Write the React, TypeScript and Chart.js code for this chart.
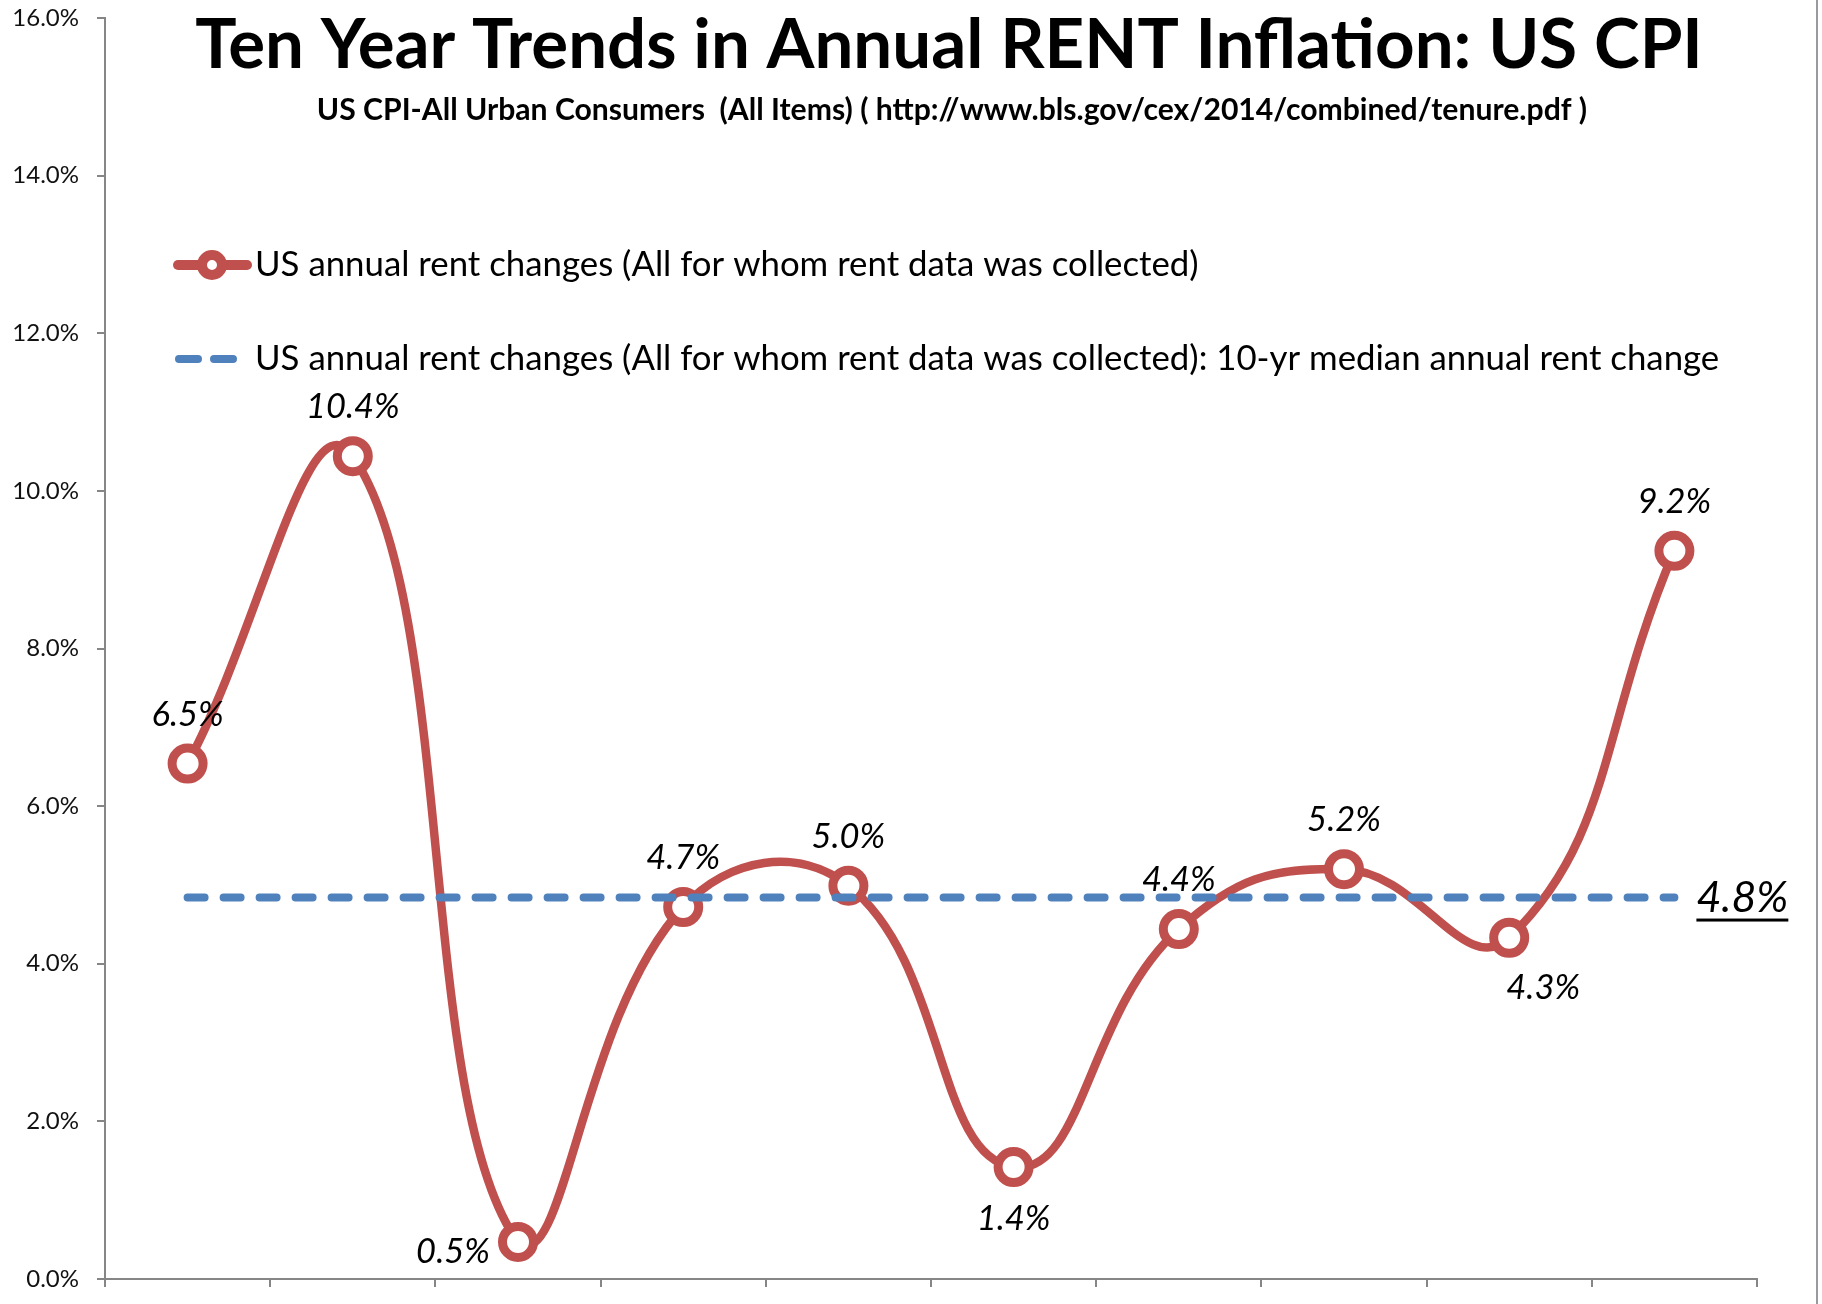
import React, { useEffect, useRef } from 'react';
import { Chart, registerables } from 'chart.js';

Chart.register(...registerables);

// ---------- data ----------
const categories = ['2005', '2006', '2007', '2008', '2009', '2010', '2011', '2012', '2013', '2014'];
const rentChanges = [6.54, 10.44, 0.47, 4.72, 4.99, 1.42, 4.44, 5.2, 4.33, 9.24];
const medianChange = [4.84, 4.84, 4.84, 4.84, 4.84, 4.84, 4.84, 4.84, 4.84, 4.84];
const yMin = 0;
const yMax = 16;
const yStep = 2;

const titleText = 'Ten Year Trends in Annual RENT Inflation: US CPI';
const subtitleText = 'US CPI-All Urban Consumers  (All Items) ( http://www.bls.gov/cex/2014/combined/tenure.pdf )';
const seriesLabel = 'US annual rent changes (All for whom rent data was collected)';
const medianLabel = 'US annual rent changes (All for whom rent data was collected): 10-yr median annual rent change';

// label placement per point (style only)
const labelPlacement = ['above', 'above', 'left', 'above', 'above', 'below', 'above', 'above', 'belowRight', 'above'];

const RED = '#C0504D';
const BLUE = '#4F81BD';
const AXIS = '#868686';
const FONT = 'Lato';

const W = 1822;
const H = 1304;

function fitFont(ctx: CanvasRenderingContext2D, text: string, style: string, target: number) {
  ctx.font = `${style} 100px ${FONT}`;
  const w = ctx.measureText(text).width;
  return (100 * target) / w;
}

const overlayPlugin = {
  id: 'overlay',
  afterDatasetsDraw(chart: any) {
    const ctx: CanvasRenderingContext2D = chart.ctx;
    ctx.save();
    // data labels
    ctx.fillStyle = '#000';
    ctx.font = `italic 34.5px ${FONT}`;
    ctx.textAlign = 'center';
    ctx.textBaseline = 'middle';
    const meta0 = chart.getDatasetMeta(0);
    meta0.data.forEach((pt: any, i: number) => {
      const txt = rentChanges[i].toFixed(1) + '%';
      let dx = 0;
      let dy = -49;
      switch (labelPlacement[i]) {
        case 'below':
          dy = 52;
          break;
        case 'left':
          dx = -65;
          dy = 10;
          break;
        case 'belowRight':
          dx = 34;
          dy = 50;
          break;
      }
      ctx.fillText(txt, pt.x + dx, pt.y + dy);
    });
    // median label
    const meta1 = chart.getDatasetMeta(1);
    const lastIdx = meta1.data.length - 1;
    const last = meta1.data[lastIdx];
    const mt = medianChange[lastIdx].toFixed(1) + '%';
    ctx.font = `italic 43px ${FONT}`;
    ctx.textAlign = 'left';
    const mw = ctx.measureText(mt).width;
    const lx = last.x + 22;
    const ly = last.y + 1;
    ctx.fillText(mt, lx, ly);
    ctx.fillRect(lx, ly + 20, mw, 3);
    ctx.restore();
  },
  afterDraw(chart: any) {
    const ctx: CanvasRenderingContext2D = chart.ctx;
    ctx.save();
    // title
    ctx.fillStyle = '#000';
    ctx.textAlign = 'center';
    ctx.textBaseline = 'alphabetic';
    let fs = fitFont(ctx, titleText, 'bold', 1508);
    ctx.font = `bold ${fs}px ${FONT}`;
    ctx.fillText(titleText, 949, 68);
    fs = fitFont(ctx, subtitleText, 'bold', 1271);
    ctx.font = `bold ${fs}px ${FONT}`;
    ctx.fillText(subtitleText, 952, 120);

    // legend
    const ds0 = chart.data.datasets[0];
    const ds1 = chart.data.datasets[1];
    const y1 = 265;
    const y2 = 359;
    ctx.lineCap = 'round';
    ctx.strokeStyle = ds0.borderColor;
    ctx.lineWidth = 10;
    ctx.beginPath();
    ctx.moveTo(178, y1);
    ctx.lineTo(247, y1);
    ctx.stroke();
    ctx.beginPath();
    ctx.arc(212, y1, 10, 0, Math.PI * 2);
    ctx.fillStyle = '#fff';
    ctx.fill();
    ctx.lineWidth = 10;
    ctx.stroke();

    ctx.strokeStyle = ds1.borderColor;
    ctx.lineWidth = 8;
    ctx.beginPath();
    ctx.moveTo(179, y2);
    ctx.lineTo(198, y2);
    ctx.moveTo(214, y2);
    ctx.lineTo(233, y2);
    ctx.stroke();

    ctx.fillStyle = '#000';
    ctx.textAlign = 'left';
    ctx.textBaseline = 'middle';
    ctx.font = `34.8px ${FONT}`;
    ctx.fillText(ds0.label, 255, y1);
    ctx.fillText(ds1.label, 255, y2);

    // outer right border
    ctx.strokeStyle = '#9a9a9a';
    ctx.lineWidth = 2;
    ctx.beginPath();
    ctx.moveTo(1817, 0);
    ctx.lineTo(1817, H);
    ctx.stroke();
    ctx.restore();
  },
};

export default function App() {
  const ref = useRef<HTMLCanvasElement | null>(null);

  useEffect(() => {
    document.body.style.margin = '0';
    const canvas = ref.current;
    if (!canvas) return;
    Chart.defaults.font.family = FONT;
    const chart = new Chart(canvas, {
      type: 'line',
      data: {
        labels: categories,
        datasets: [
          {
            label: seriesLabel,
            data: rentChanges,
            borderColor: RED,
            backgroundColor: RED,
            borderWidth: 8.5,
            tension: 0.45,
            cubicInterpolationMode: 'default',
            borderCapStyle: 'round',
            borderJoinStyle: 'round',
            pointRadius: 15.5,
            pointBorderWidth: 9,
            pointBackgroundColor: '#ffffff',
            pointBorderColor: RED,
            clip: false,
            order: 1,
          } as any,
          {
            label: medianLabel,
            data: medianChange,
            borderColor: BLUE,
            backgroundColor: BLUE,
            borderWidth: 8,
            borderDash: [17, 19],
            borderCapStyle: 'round',
            pointRadius: 0,
            tension: 0,
            clip: false,
            order: 0,
          } as any,
        ],
      },
      options: {
        responsive: false,
        animation: false,
        devicePixelRatio: 1,
        events: [],
        layout: { autoPadding: false, padding: { left: 0, top: 18, right: 65, bottom: 0 } },
        plugins: {
          legend: { display: false },
          title: { display: false },
          tooltip: { enabled: false },
        },
        scales: {
          x: {
            type: 'category',
            offset: true,
            grid: {
              display: true,
              drawOnChartArea: false,
              drawTicks: true,
              tickLength: 8,
              offset: true,
              color: AXIS,
              lineWidth: 2,
            },
            border: { display: true, color: AXIS, width: 2 },
            ticks: { display: false },
            afterFit: (s: any) => {
              s.height = 25;
              s.paddingLeft = 0;
              s.paddingRight = 0;
            },
          },
          y: {
            min: yMin,
            max: yMax,
            grid: {
              display: true,
              drawOnChartArea: false,
              drawTicks: true,
              tickLength: 8,
              color: AXIS,
              lineWidth: 2,
            },
            border: { display: true, color: AXIS, width: 2 },
            ticks: {
              stepSize: yStep,
              padding: 18,
              color: '#111',
              font: { size: 24, family: FONT },
              callback: (v: any) => Number(v).toFixed(1) + '%',
            },
            afterFit: (s: any) => {
              s.width = 105;
              s.paddingTop = 0;
              s.paddingBottom = 0;
            },
          },
        },
      },
      plugins: [overlayPlugin],
    } as any);
    return () => chart.destroy();
  }, []);

  return (
    <div style={{ width: W, height: H, background: '#fff' }}>
      <canvas ref={ref} width={W} height={H} style={{ display: 'block', width: W, height: H }} />
    </div>
  );
}
